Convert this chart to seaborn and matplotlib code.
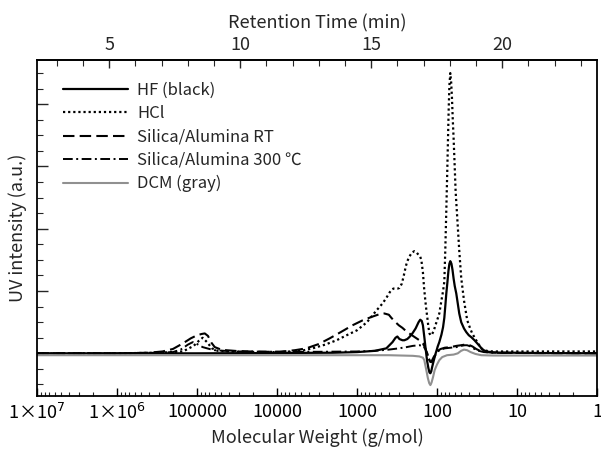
import numpy as np
import pandas as pd
import matplotlib
matplotlib.use("Agg")
import matplotlib.pyplot as plt
import seaborn as sns
from matplotlib.ticker import FixedLocator, MultipleLocator, LogLocator, NullFormatter, FormatStrFormatter

# ---- data: molecular weight (g/mol) vs UV intensity (a.u.) ----
hf_mw = [1e7, 1e6, 1e5, 1e4, 2000, 1000, 600, 430, 360, 330, 313, 295, 270, 256, 235, 222, 203,
         185, 170, 162, 155, 150, 144, 138, 133, 128, 124, 121, 118, 115, 110, 105, 100, 98, 93.6,
         88, 84, 81, 78.5, 76.5, 74, 72, 70, 68.2, 66, 64, 62, 60, 57.4, 55, 52.7, 49.8, 46, 43,
         40, 37.3, 34, 31.4, 29, 27, 24, 20, 16, 10, 5, 1]
hf_uv = [0, 0, 0, 0.005, 0.01, 0.02, 0.04, 0.08, 0.18, 0.25, 0.27, 0.23, 0.21, 0.21, 0.23, 0.26, 0.32,
         0.40, 0.50, 0.54, 0.52, 0.45, 0.26, 0.05, -0.12, -0.24, -0.31, -0.32, -0.29, -0.22, -0.12, -0.02, 0.07, 0.11, 0.18,
         0.30, 0.42, 0.57, 0.78, 0.96, 1.15, 1.32, 1.44, 1.48, 1.44, 1.34, 1.20, 1.08, 0.96, 0.80, 0.64, 0.50, 0.40, 0.34,
         0.29, 0.26, 0.21, 0.16, 0.11, 0.06, 0.03, 0.015, 0.01, 0.01, 0.005, 0.0]

hcl_mw = [1e7, 1e6, 3e5, 1.5e5, 1.1e5, 9.5e4, 8.5e4, 7.5e4, 6.5e4, 5.5e4, 4e4, 2e4, 9000, 5000, 3600,
          2500, 1800, 1300, 1000, 750, 570, 480, 430, 390, 370, 350, 330, 310, 295, 275, 260, 245,
          235, 220, 205, 192, 180, 170, 162, 157, 150, 145, 140, 136, 132, 128, 124, 121, 116, 110,
          104, 98, 93.6, 88, 84, 81, 78.8, 76.5, 74.5, 73, 71.5, 70, 68.2, 66.5, 65, 63.5, 62, 60.5,
          58.5, 55.8, 52.7, 49.8, 46, 41.9, 38.5, 36.3, 32.4, 28, 24, 20, 10, 5, 1]
hcl_uv = [0, 0, 0.01, 0.03, 0.12, 0.20, 0.25, 0.18, 0.08, 0.04, 0.03, 0.02, 0.02, 0.04, 0.08,
          0.14, 0.21, 0.30, 0.37, 0.50, 0.69, 0.80, 0.89, 0.98, 1.02, 1.04, 1.04, 1.04, 1.05, 1.12, 1.25, 1.40,
          1.48, 1.56, 1.62, 1.64, 1.62, 1.58, 1.55, 1.50, 1.30, 1.05, 0.85, 0.70, 0.57, 0.42, 0.32, 0.29, 0.30, 0.36,
          0.46, 0.56, 0.64, 0.85, 1.00, 1.15, 1.65, 2.30, 2.90, 3.40, 3.90, 4.30, 4.50, 4.35, 4.10, 3.75, 3.45, 3.10,
          2.60, 2.17, 1.65, 1.21, 0.85, 0.53, 0.40, 0.32, 0.21, 0.08, 0.04, 0.03, 0.03, 0.03, 0.03]

rt_mw = [1e7, 1e6, 4e5, 2.7e5, 2e5, 1.5e5, 1.2e5, 1e5, 8.8e4, 8e4, 7.3e4, 6.6e4, 6e4, 5e4, 4.3e4, 3e4,
         2.2e4, 1.5e4, 9300, 6000, 4300, 3000, 2200, 1600, 1140, 850, 640, 520, 455, 400, 372, 330,
         300, 271, 240, 200, 166, 150, 140, 132, 125, 121, 116, 110, 104, 98, 90, 80, 68, 57, 50, 45, 42, 39,
         36, 32.4, 29, 26, 22, 15, 8, 1]
rt_uv = [0, 0, 0.01, 0.03, 0.07, 0.16, 0.24, 0.29, 0.31, 0.32, 0.28, 0.17, 0.10, 0.06, 0.05, 0.035,
         0.03, 0.025, 0.025, 0.05, 0.08, 0.15, 0.24, 0.34, 0.45, 0.53, 0.59, 0.63, 0.64, 0.62, 0.57, 0.50,
         0.45, 0.41, 0.35, 0.28, 0.21, 0.16, 0.08, -0.02, -0.10, -0.14, -0.12, -0.06, 0.0, 0.04, 0.07, 0.09, 0.10, 0.12, 0.13, 0.14, 0.14, 0.13,
         0.11, 0.07, 0.04, 0.025, 0.015, 0.01, 0.005, 0.0]

ht_mw = [1e7, 1e6, 3e5, 2e5, 1.6e5, 1.3e5, 1.13e5, 1e5, 8.5e4, 7e4, 6e4, 4.5e4, 3e4, 1e4, 3000, 1000,
         600, 400, 300, 240, 200, 166, 150, 140, 132, 125, 121, 116, 110, 104, 98, 90, 80, 68, 57, 50,
         45, 42, 38, 34, 30, 26, 20, 10, 1]
ht_uv = [0, 0, 0.01, 0.02, 0.06, 0.14, 0.18, 0.15, 0.10, 0.07, 0.05, 0.04, 0.03, 0.025, 0.025, 0.03,
         0.04, 0.06, 0.08, 0.10, 0.12, 0.13, 0.12, 0.07, 0.0, -0.10, -0.16, -0.14, -0.08, -0.02, 0.03, 0.06, 0.08, 0.09, 0.10, 0.12,
         0.13, 0.13, 0.11, 0.07, 0.04, 0.02, 0.01, 0.005, 0.0]

dcm_mw = [1e7, 1e4, 1000, 400, 200, 166, 150, 144, 140, 136, 130, 125, 121, 117, 112, 107, 100, 93.6,
          86, 75, 62, 55, 50, 46, 42, 38, 33, 28, 20, 10, 1]
dcm_uv = [-0.03, -0.03, -0.03, -0.03, -0.04, -0.05, -0.07, -0.11, -0.19, -0.27, -0.40, -0.48, -0.51, -0.47, -0.38, -0.27, -0.18, -0.11,
          -0.06, -0.03, -0.02, 0.0, 0.04, 0.06, 0.05, 0.02, -0.01, -0.03, -0.035, -0.035, -0.035]

labels = ["HF (black)", "HCl", "Silica/Alumina RT", "Silica/Alumina 300 ℃", "DCM (gray)"]

xtick_vals = [1e7, 1e6, 1e5, 1e4, 1e3, 1e2, 1e1, 1]
xtick_labels = ["1×10$^{7}$", "1×10$^{6}$", "100000", "10000", "1000", "100", "10", "1"]
rt_ticks = [5, 10, 15, 20]

# ---- styling ----
sns.set_theme(style="ticks")
plt.rcParams["font.family"] = ["Noto Sans CJK JP", "DejaVu Sans"]
plt.rcParams["axes.unicode_minus"] = False

fig = plt.figure(figsize=(6.01, 4.49), dpi=100)
ax = fig.add_axes([37 / 601, 53 / 449, 560 / 601, 336 / 449])

series = [
    (hf_mw, hf_uv, dict(color="black", linestyle="-", linewidth=1.6)),
    (hcl_mw, hcl_uv, dict(color="black", linestyle=(0, (1, 1.3)), linewidth=1.6)),
    (rt_mw, rt_uv, dict(color="black", linestyle=(0, (5.5, 2.5)), linewidth=1.5)),
    (ht_mw, ht_uv, dict(color="black", linestyle=(0, (5, 1.8, 1, 1.8)), linewidth=1.4)),
    (dcm_mw, dcm_uv, dict(color="#909090", linestyle="-", linewidth=1.5)),
]
for (mw, uv, kw), lab in zip(series, labels):
    df = pd.DataFrame({"mw": mw, "uv": uv})
    sns.lineplot(data=df, x="mw", y="uv", ax=ax, sort=False, label=lab, **kw)

ax.set_xscale("log")
ax.set_xlim(1e7, 1)
ax.set_ylim(-0.685, 4.71)

ax.xaxis.set_major_locator(FixedLocator(xtick_vals))
ax.set_xticklabels(xtick_labels)
ax.xaxis.set_minor_locator(LogLocator(base=10, subs=np.arange(2, 10), numticks=50))
ax.xaxis.set_minor_formatter(NullFormatter())
ax.yaxis.set_major_locator(MultipleLocator(1))
ax.yaxis.set_minor_locator(MultipleLocator(0.25))
ax.set_yticklabels([])

ax.tick_params(axis="x", which="major", direction="in", length=6, width=1.0, top=False,
               labelsize=13, pad=5, colors="black")
ax.tick_params(axis="x", which="minor", direction="in", length=3, width=0.8, top=False)
ax.tick_params(axis="y", which="major", direction="in", length=8, width=1.0, right=False, left=True)
ax.tick_params(axis="y", which="minor", direction="in", length=4, width=0.8, right=False, left=True)

for sp in ax.spines.values():
    sp.set_linewidth(1.3)
    sp.set_color("black")

ax.set_xlabel("Molecular Weight (g/mol)", fontsize=13, labelpad=4)
ax.set_ylabel("UV intensity (a.u.)", fontsize=13, labelpad=4)


def mw_to_rt(mw):
    mw = np.clip(np.asarray(mw, dtype=float), 1e-300, None)
    return 2.24 + 3.054 * (7 - np.log10(mw))


def rt_to_mw(t):
    t = np.asarray(t, dtype=float)
    return 10 ** (7 - (t - 2.24) / 3.054)


sec = ax.secondary_xaxis("top", functions=(mw_to_rt, rt_to_mw))
sec.xaxis.set_major_locator(FixedLocator(rt_ticks))
sec.xaxis.set_major_formatter(FormatStrFormatter("%d"))
sec.xaxis.set_minor_locator(FixedLocator(np.arange(3, 24)))
sec.xaxis.set_minor_formatter(NullFormatter())
sec.tick_params(which="major", direction="in", length=6, width=1.0, labelsize=13, pad=4)
sec.tick_params(which="minor", direction="in", length=4, width=0.8)
sec.set_xlabel("Retention Time (min)", fontsize=13, labelpad=6)
sec.spines["top"].set_linewidth(1.3)

leg = ax.legend(loc="upper left", bbox_to_anchor=(0.035, 0.955), frameon=False, fontsize=12,
                handlelength=3.9, handletextpad=0.55, labelspacing=0.38, borderaxespad=0)

fig.savefig("out.png", dpi=100)
